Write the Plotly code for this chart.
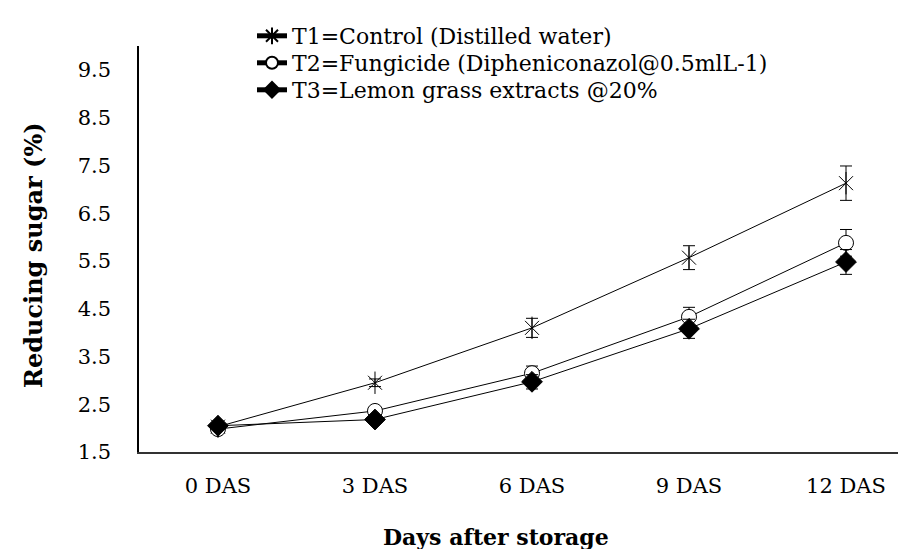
import plotly.graph_objects as go

categories = ["0 DAS", "3 DAS", "6 DAS", "9 DAS", "12 DAS"]
t1_values = [2.03, 2.95, 4.10, 5.57, 7.13]
t1_errors = [0.05, 0.08, 0.20, 0.25, 0.36]
t2_values = [1.98, 2.36, 3.15, 4.33, 5.88]
t2_errors = [0.05, 0.08, 0.15, 0.20, 0.28]
t3_values = [2.05, 2.18, 2.97, 4.08, 5.48]
t3_errors = [0.05, 0.06, 0.15, 0.20, 0.26]
series_names = [
    "T1=Control (Distilled water)",
    "T2=Fungicide (Dipheniconazol@0.5mlL-1)",
    "T3=Lemon grass extracts @20%",
]
y_ticks = [1.5, 2.5, 3.5, 4.5, 5.5, 6.5, 7.5, 8.5, 9.5]
x_title = "Days after storage"
y_title = "Reducing sugar (%)"

FONT = "DejaVu Serif"
xi = list(range(len(categories)))

# plot area geometry (pixels)
L, R, T, B = 131, 0, 38, 105
PW, PH = 906 - L - R, 549 - T - B


def err(arr):
    return dict(type="data", array=arr, visible=True, color="black", thickness=1, width=6)


fig = go.Figure()
fig.add_trace(go.Scatter(
    x=xi, y=t1_values, mode="lines+markers", name=series_names[0], legend="legend",
    line=dict(color="black", width=1),
    marker=dict(symbol="x-thin-open", size=14, color="black", line=dict(color="black", width=1)),
    error_y=err(t1_errors),
))
# vertical stroke completing the star marker of T1 (also overlaid on its legend symbol)
fig.add_trace(go.Scatter(
    x=xi, y=t1_values, mode="markers", name=" ", legend="legend4", hoverinfo="skip",
    marker=dict(symbol="line-ns-open", size=16, color="black", line=dict(color="black", width=1)),
))
fig.add_trace(go.Scatter(
    x=xi, y=t2_values, mode="lines+markers", name=series_names[1], legend="legend2",
    line=dict(color="black", width=1),
    marker=dict(symbol="circle", size=15, color="white", line=dict(color="black", width=1)),
    error_y=err(t2_errors),
))
fig.add_trace(go.Scatter(
    x=xi, y=t3_values, mode="lines+markers", name=series_names[2], legend="legend3",
    line=dict(color="black", width=1),
    marker=dict(symbol="diamond", size=16, color="black", line=dict(color="black", width=1)),
    error_y=err(t3_errors),
))


def leg(row_y):
    return dict(
        x=(244 - L) / PW, y=(549 - B - row_y) / PH, xanchor="left", yanchor="middle",
        bgcolor="rgba(0,0,0,0)", borderwidth=0,
        font=dict(family=FONT, size=22, color="black"), itemsizing="constant",
    )


fig.update_layout(
    width=906, height=549,
    margin=dict(l=L, r=R, t=T, b=B),
    paper_bgcolor="white", plot_bgcolor="white",
    font=dict(family=FONT, size=21, color="black"),
    showlegend=True,
    legend=leg(28), legend2=leg(55), legend3=leg(82), legend4=leg(28),
    xaxis=dict(
        tickmode="array", tickvals=xi, ticktext=categories,
        range=[-0.503, 4.433], showgrid=False, zeroline=False,
        showline=True, linecolor="#333", linewidth=1.5, ticks="",
        tickfont=dict(family=FONT, size=21), ticklabelstandoff=14,
    ),
    yaxis=dict(
        range=[1.5, 1.5 + PH / 47.75], tickvals=y_ticks, ticktext=[f"{v:.1f}" for v in y_ticks],
        showgrid=False, zeroline=False, showline=True, linecolor="black", linewidth=1.5,
        ticks="", tickfont=dict(family=FONT, size=21), ticklabelstandoff=22,
    ),
    annotations=[
        dict(text=f"<b>{x_title}</b>", xref="paper", yref="paper",
             x=(488 - L) / PW, y=(549 - B - 529) / PH,
             xanchor="center", yanchor="middle", showarrow=False, font=dict(family=FONT, size=22)),
        dict(text=f"<b>{y_title}</b>", xref="paper", yref="paper",
             x=(25 - L) / PW, y=(549 - B - 247) / PH,
             xanchor="center", yanchor="middle", textangle=-90, showarrow=False,
             font=dict(family=FONT, size=24)),
    ],
)

fig.write_html("out.html")
